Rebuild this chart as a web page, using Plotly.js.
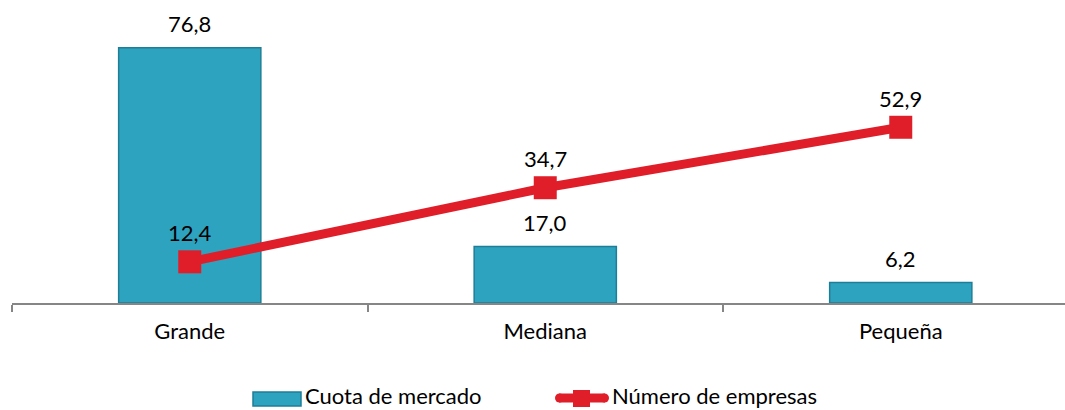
<!DOCTYPE html>
<html>
<head>
<meta charset="utf-8">
<script src="https://cdn.plot.ly/plotly-3.0.1.min.js"></script>
<style>html,body{margin:0;padding:0;background:#fff;}#chart{width:1065px;height:410px;}</style>
</head>
<body>
<div id="chart"></div>
<script>
const categories = ["Grande", "Mediana", "Pequeña"];
const cuotaMercado = [76.8, 17.0, 6.2];
const numeroEmpresas = [12.4, 34.7, 52.9];
const seriesNames = ["Cuota de mercado", "Número de empresas"];

const fmt = v => v.toFixed(1).replace('.', ',');
const FONT = "Lato, 'Noto Sans', sans-serif";
const FS = 22;
const BAR_COLOR = '#2EA3BF', BAR_LINE = '#1E7E97', RED = '#E01E2A';

// plot area geometry (pixels) used to place the custom legend
const M = {l: 12, r: 0, t: 10, b: 107};
const W = 1065, H = 410;
const pw = W - M.l - M.r, ph = H - M.t - M.b;
const px = x => (x - M.l) / pw;
const py = y => (H - M.b - y) / ph;

const traces = [
  {
    type: 'bar', name: seriesNames[0], x: categories, y: cuotaMercado,
    width: 0.4,
    marker: {color: BAR_COLOR, line: {color: BAR_LINE, width: 1.5}},
    hoverinfo: 'none', showlegend: false
  },
  {
    type: 'scatter', mode: 'lines+markers', name: seriesNames[1],
    x: categories, y: numeroEmpresas,
    line: {color: RED, width: 9},
    marker: {symbol: 'square', size: 23, color: RED},
    hoverinfo: 'none', showlegend: false
  }
];

const annotations = [];
categories.forEach((c, i) => {
  annotations.push({x: c, y: cuotaMercado[i], text: fmt(cuotaMercado[i]), showarrow: false,
    yshift: 24, font: {family: FONT, size: FS, color: '#000'}});
  annotations.push({x: c, y: numeroEmpresas[i], text: fmt(numeroEmpresas[i]), showarrow: false,
    yshift: 29, font: {family: FONT, size: FS, color: '#000'}});
});
// legend texts
annotations.push({xref: 'paper', yref: 'paper', x: px(304), y: py(395), xanchor: 'left', yanchor: 'middle',
  text: seriesNames[0], showarrow: false, borderpad: 0, font: {family: FONT, size: FS, color: '#000'}});
annotations.push({xref: 'paper', yref: 'paper', x: px(611), y: py(395), xanchor: 'left', yanchor: 'middle',
  text: seriesNames[1], showarrow: false, borderpad: 0, font: {family: FONT, size: FS, color: '#000'}});

const shapes = [
  {type: 'rect', xref: 'paper', yref: 'paper', x0: px(253), x1: px(301), y0: py(406), y1: py(392),
    fillcolor: BAR_COLOR, line: {color: BAR_LINE, width: 1.5}},
  {type: 'line', xref: 'paper', yref: 'paper', x0: px(559), x1: px(605), y0: py(398), y1: py(398),
    line: {color: RED, width: 9}},
  {type: 'circle', xref: 'paper', yref: 'paper', x0: px(555), x1: px(564), y0: py(402.5), y1: py(393.5),
    fillcolor: RED, line: {width: 0}},
  {type: 'circle', xref: 'paper', yref: 'paper', x0: px(600), x1: px(609), y0: py(402.5), y1: py(393.5),
    fillcolor: RED, line: {width: 0}},
  {type: 'rect', xref: 'paper', yref: 'paper', x0: px(573), x1: px(590), y0: py(407), y1: py(390),
    fillcolor: RED, line: {width: 0}}
];

const layout = {
  width: W, height: H,
  margin: M,
  paper_bgcolor: '#fff', plot_bgcolor: '#fff',
  font: {family: FONT, size: FS, color: '#000'},
  showlegend: false,
  xaxis: {
    type: 'category', range: [-0.5, 2.462],
    showline: true, linecolor: '#868686', linewidth: 2,
    ticks: 'outside', tickson: 'boundaries', ticklen: 7, tickcolor: '#868686', tickwidth: 2,
    ticklabelstandoff: 8,
    showgrid: false, zeroline: false, fixedrange: true,
    tickfont: {family: FONT, size: FS}
  },
  yaxis: {
    range: [0, 88.2], visible: false, showgrid: false, zeroline: false, fixedrange: true
  },
  annotations: annotations,
  shapes: shapes
};

Plotly.newPlot('chart', traces, layout, {displayModeBar: false, staticPlot: true});
</script>
</body>
</html>
